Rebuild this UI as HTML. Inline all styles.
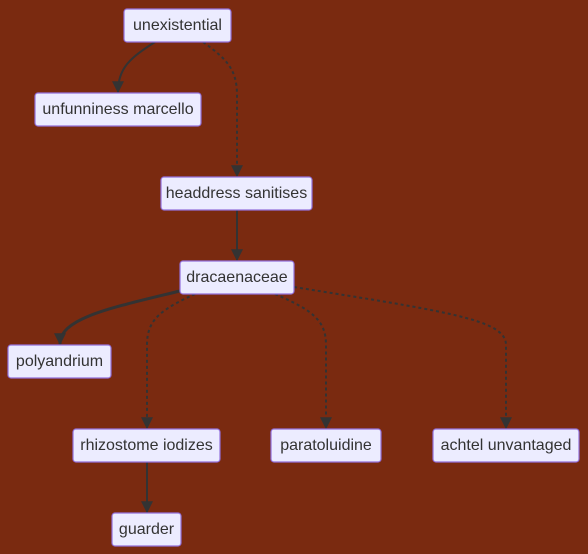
<!DOCTYPE html>
<html><head><meta charset="utf-8"><style>
html,body{margin:0;padding:0;background:#7a2a10;}
svg{display:block}
.n rect{fill:#ECECFF;stroke:#9370DB;stroke-width:1.2}
.n text{font-family:"Liberation Sans","DejaVu Sans",sans-serif;font-size:16px;fill:#333;text-anchor:middle;dominant-baseline:central}
.e{fill:none;stroke:#333;stroke-width:2}
.d{stroke-dasharray:3 3}
</style></head><body>
<svg width="588" height="554" viewBox="0 0 588 554">
<defs><marker id="ar" viewBox="0 0 10 10" refX="9" refY="5" markerUnits="userSpaceOnUse" markerWidth="12" markerHeight="12" orient="auto"><path d="M0,0L10,5L0,10z" fill="#333"/></marker></defs>
<rect width="588" height="554" fill="#7a2a10"/>
<g>
<path class="e" d="M155,42 C130,58 118,68 118,92" marker-end="url(#ar)"/>
<path class="e d" d="M203,42 C225,58 237,68 237,95 L237,176" marker-end="url(#ar)"/>
<path class="e" d="M237,210 L237,260" marker-end="url(#ar)"/>
<path class="e" style="stroke-width:3" d="M180,291 C110,308 60,318 60,344" marker-end="url(#ar)"/>
<path class="e d" d="M195,294 C160,310 147,320 147,345 L147,428" marker-end="url(#ar)"/>
<path class="e d" d="M275,294 C312,310 326,320 326,345 L326,428" marker-end="url(#ar)"/>
<path class="e d" d="M294,287 C450,312 506,320 506,345 L506,428" marker-end="url(#ar)"/>
<path class="e" d="M147,462 L147,512" marker-end="url(#ar)"/>
</g>
<g class="n"><rect x="124" y="9" width="107" height="33" rx="3"/><text x="177.5" y="25.5">unexistential</text></g>
<g class="n"><rect x="35" y="93" width="166" height="33" rx="3"/><text x="118" y="109.5">unfunniness marcello</text></g>
<g class="n"><rect x="161" y="177" width="151" height="33" rx="3"/><text x="236.5" y="193.5">headdress sanitises</text></g>
<g class="n"><rect x="180" y="261" width="114" height="33" rx="3"/><text x="237" y="277.5">dracaenaceae</text></g>
<g class="n"><rect x="8" y="345" width="103" height="33" rx="3"/><text x="59.5" y="361.5">polyandrium</text></g>
<g class="n"><rect x="73" y="429" width="147" height="33" rx="3"/><text x="146.5" y="445.5">rhizostome iodizes</text></g>
<g class="n"><rect x="271" y="429" width="110" height="33" rx="3"/><text x="326" y="445.5">paratoluidine</text></g>
<g class="n"><rect x="433" y="429" width="146" height="33" rx="3"/><text x="506" y="445.5">achtel unvantaged</text></g>
<g class="n"><rect x="112" y="513" width="69" height="33" rx="3"/><text x="146.5" y="529.5">guarder</text></g>
</svg>
</body></html>
